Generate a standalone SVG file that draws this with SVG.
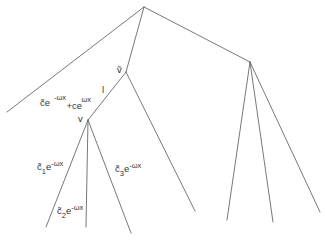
<svg xmlns="http://www.w3.org/2000/svg" width="327" height="241" viewBox="0 0 327 241">
<style>
.e{stroke:#555;stroke-width:0.8;fill:none;stroke-linecap:round}
.t{font-family:"Liberation Sans",Arial,sans-serif;font-size:9.5px;fill:#333333}
.s{font-size:7.5px}
</style>
<rect width="327" height="241" fill="#ffffff"/>
<g id="connectors">
<line class="e" x1="144" y1="7" x2="7" y2="112"/>
<line class="e" x1="144" y1="7" x2="126" y2="72"/>
<line class="e" x1="144" y1="7" x2="250" y2="62"/>
<line class="e" x1="126" y1="72" x2="195" y2="211"/>
<line class="e" x1="126" y1="72" x2="88" y2="120"/>
<line class="e" x1="88" y1="120" x2="46" y2="227"/>
<line class="e" x1="88" y1="120" x2="86" y2="227"/>
<line class="e" x1="88" y1="120" x2="131" y2="233"/>
<line class="e" x1="250" y1="62" x2="227" y2="220"/>
<line class="e" x1="250" y1="62" x2="273" y2="222"/>
<line class="e" x1="250" y1="62" x2="320" y2="212"/>
</g>
<g id="vtilde"><text class="t" x="117" y="73">ṽ</text></g>
<g id="edge-l"><text class="t" x="102" y="93">l</text></g>
<g id="v"><text class="t" x="78" y="122">v</text></g>
<g id="label-left"><text class="t" x="40" y="106">c̃e<tspan class="s" x="54" y="100">-ωx</tspan><tspan x="66.5" y="109">+ce</tspan><tspan class="s" x="81.5" y="102">ωx</tspan></text></g>
<g id="label-c1"><text class="t" x="37" y="170">c̃<tspan class="s" y="174">1</tspan><tspan y="170">e</tspan><tspan class="s" y="166">-ωx</tspan></text></g>
<g id="label-c3"><text class="t" x="115" y="172">c̃<tspan class="s" y="176">3</tspan><tspan y="172">e</tspan><tspan class="s" y="168">-ωx</tspan></text></g>
<g id="label-c2"><text class="t" x="57" y="214">c̃<tspan class="s" y="218">2</tspan><tspan y="214">e</tspan><tspan class="s" y="210">-ωx</tspan></text></g>
</svg>
